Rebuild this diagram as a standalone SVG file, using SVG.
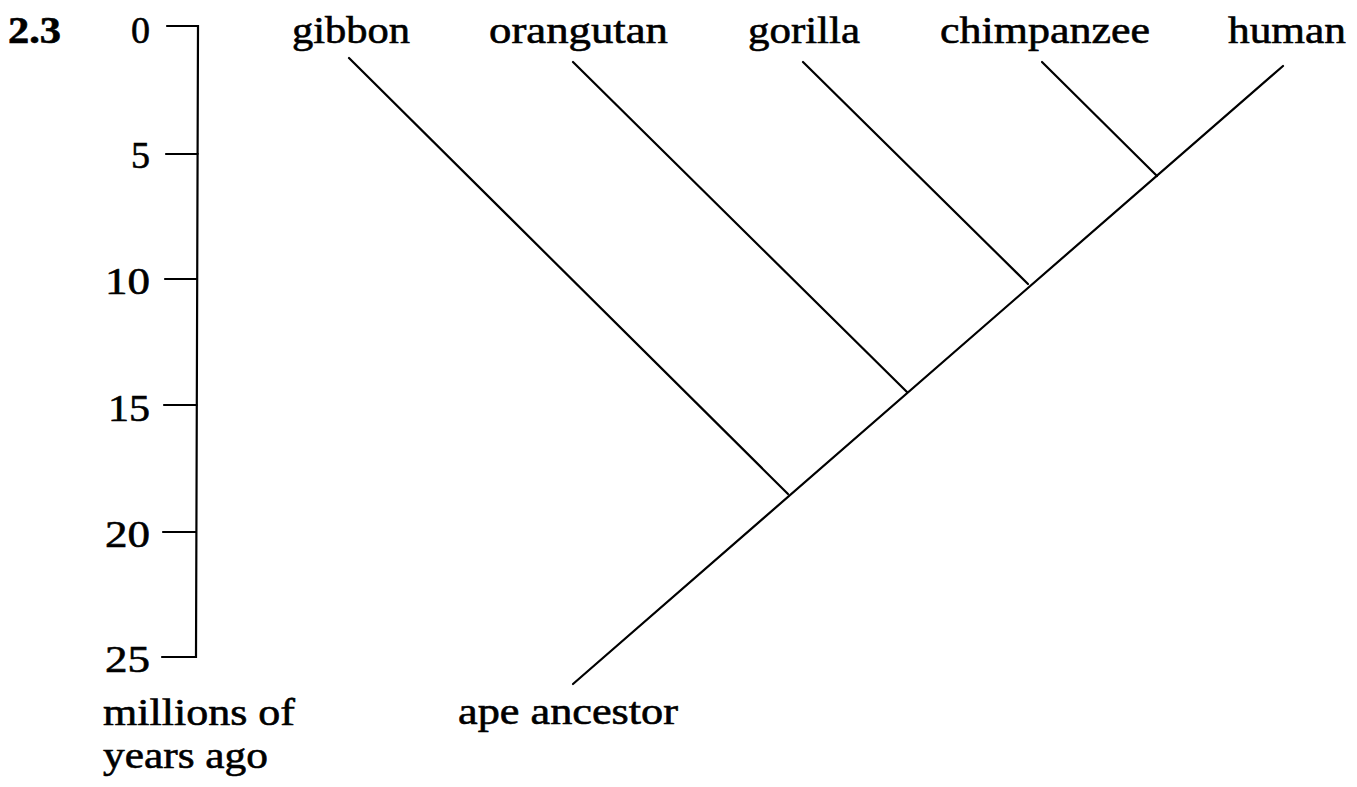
<svg xmlns="http://www.w3.org/2000/svg" width="1357" height="787" viewBox="0 0 1357 787">
<style>
text{font-family:"Liberation Serif","Times New Roman",Times,serif;font-size:38px;fill:#000;stroke:#000;stroke-width:0.6}
.num{text-anchor:end}
.ln{stroke:#000;stroke-width:2.2;fill:none;stroke-linecap:round}
</style>
<rect width="1357" height="787" fill="#fff"/>
<g id="figure-number"><text x="8" y="43" font-weight="bold" textLength="53" lengthAdjust="spacingAndGlyphs">2.3</text></g>
<g id="axis">
<path class="ln" d="M167 26 H198 L196 657 H162 M166 154 H198 M165 279 H197 M164 405 H197 M163 532 H196"/>
<text class="num" x="150" y="43">0</text>
<text class="num" x="150" y="168">5</text>
<text x="105" y="294" textLength="45" lengthAdjust="spacingAndGlyphs">10</text>
<text x="108" y="421" textLength="42" lengthAdjust="spacingAndGlyphs">15</text>
<text x="105" y="547" textLength="45" lengthAdjust="spacingAndGlyphs">20</text>
<text x="105" y="672" textLength="45" lengthAdjust="spacingAndGlyphs">25</text>
<text x="103" y="725" textLength="192" lengthAdjust="spacingAndGlyphs">millions of</text>
<text x="103" y="768" textLength="165" lengthAdjust="spacingAndGlyphs">years ago</text>
</g>
<g id="gibbon"><text x="292" y="43" textLength="118" lengthAdjust="spacingAndGlyphs">gibbon</text></g>
<g id="orangutan"><text x="489" y="43" textLength="179" lengthAdjust="spacingAndGlyphs">orangutan</text></g>
<g id="gorilla"><text x="748" y="43" textLength="112" lengthAdjust="spacingAndGlyphs">gorilla</text></g>
<g id="chimpanzee"><text x="940" y="43" textLength="210" lengthAdjust="spacingAndGlyphs">chimpanzee</text></g>
<g id="human"><text x="1228" y="43" textLength="118" lengthAdjust="spacingAndGlyphs">human</text></g>
<g id="ape-ancestor"><text x="458" y="724" textLength="220" lengthAdjust="spacingAndGlyphs">ape ancestor</text></g>
<g id="connectors">
<line class="ln" x1="573" y1="684" x2="1283" y2="66"/>
<line class="ln" x1="349" y1="58" x2="788" y2="494"/>
<line class="ln" x1="573" y1="62" x2="907" y2="392"/>
<line class="ln" x1="803" y1="62" x2="1028" y2="284"/>
<line class="ln" x1="1042" y1="62" x2="1157" y2="176"/>
</g>
</svg>
